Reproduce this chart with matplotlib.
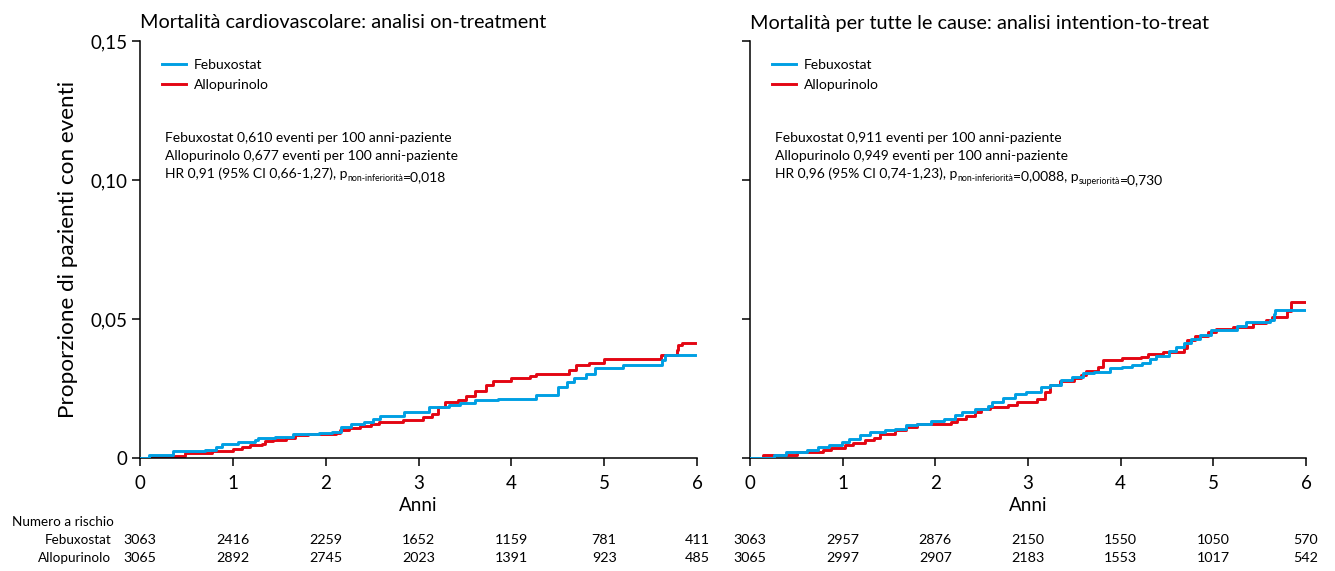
import matplotlib
matplotlib.use("Agg")
import matplotlib.pyplot as plt
import numpy as np

plt.rcParams['font.family'] = ['Lato', 'DejaVu Sans']

BLUE = '#009fe3'
RED = '#e30613'

# Kaplan-Meier step curves (anni, proporzione cumulativa)
cv_feb_t = [0, 0.10, 0.36, 0.70, 0.82, 0.88, 1.06, 1.24, 1.27, 1.45, 1.65, 1.93, 2.07, 2.17, 2.27, 2.41,
            2.51, 2.59, 2.84, 3.11, 3.33, 3.45, 3.61, 3.86, 4.27, 4.50, 4.60, 4.68, 4.80, 4.90,
            5.20, 5.62, 5.66, 5.98]
cv_feb_y = [0, 0.0010, 0.0024, 0.0029, 0.0039, 0.0051, 0.0057, 0.0063, 0.0071, 0.0077, 0.0085, 0.0089,
            0.0095, 0.0110, 0.0123, 0.0129, 0.0141, 0.0150, 0.0164, 0.0184, 0.0190, 0.0198, 0.0208,
            0.0214, 0.0226, 0.0256, 0.0274, 0.0289, 0.0302, 0.0322, 0.0335, 0.0353, 0.0370, 0.0370]

cv_allo_t = [0, 0.14, 0.48, 0.78, 1.00, 1.10, 1.18, 1.31, 1.35, 1.43, 1.57, 1.67, 1.81, 2.11, 2.15,
             2.25, 2.37, 2.49, 2.57, 2.83, 3.05, 3.15, 3.21, 3.29, 3.43, 3.51, 3.61, 3.73, 3.80,
             4.00, 4.20, 4.27, 4.62, 4.70, 4.84, 5.00, 5.61, 5.78, 5.80, 5.84, 5.98]
cv_allo_y = [0, 0.0008, 0.0017, 0.0024, 0.0033, 0.0039, 0.0045, 0.0051, 0.0060, 0.0066, 0.0072, 0.0083,
             0.0087, 0.0091, 0.0101, 0.0107, 0.0115, 0.0123, 0.0129, 0.0135, 0.0147, 0.0160, 0.0184,
             0.0202, 0.0210, 0.0223, 0.0242, 0.0262, 0.0278, 0.0286, 0.0295, 0.0301, 0.0316, 0.0335,
             0.0343, 0.0356, 0.0370, 0.0389, 0.0407, 0.0415, 0.0415]

all_feb_t = [0, 0.26, 0.39, 0.61, 0.73, 0.85, 0.99, 1.07, 1.19, 1.30, 1.46, 1.56, 1.68, 1.80, 1.95,
             2.09, 2.21, 2.29, 2.43, 2.57, 2.61, 2.73, 2.86, 2.98, 3.14, 3.24, 3.36, 3.47, 3.59,
             3.71, 3.89, 4.01, 4.12, 4.23, 4.32, 4.38, 4.52, 4.60, 4.68, 4.76, 4.86, 4.98, 5.25,
             5.35, 5.61, 5.65, 5.67, 6.00]
all_feb_y = [0, 0.0012, 0.0023, 0.0029, 0.0039, 0.0048, 0.0057, 0.0069, 0.0081, 0.0093, 0.0099, 0.0105,
             0.0117, 0.0123, 0.0133, 0.0141, 0.0153, 0.0165, 0.0178, 0.0186, 0.0202, 0.0217, 0.0232,
             0.0238, 0.0254, 0.0262, 0.0280, 0.0290, 0.0304, 0.0310, 0.0322, 0.0329, 0.0335, 0.0341,
             0.0355, 0.0367, 0.0386, 0.0401, 0.0413, 0.0428, 0.0443, 0.0461, 0.0476, 0.0489, 0.0498,
             0.0518, 0.0534, 0.0534]

all_allo_t = [0, 0.14, 0.51, 0.79, 0.87, 1.03, 1.11, 1.24, 1.34, 1.40, 1.56, 1.68, 1.80, 2.17, 2.23,
              2.33, 2.43, 2.49, 2.59, 2.78, 2.88, 3.10, 3.18, 3.24, 3.34, 3.50, 3.57, 3.63, 3.75,
              3.81, 4.01, 4.22, 4.30, 4.46, 4.68, 4.72, 4.80, 4.94, 5.03, 5.21, 5.43, 5.57, 5.63,
              5.80, 5.84, 6.00]
all_allo_y = [0, 0.0012, 0.0021, 0.0027, 0.0036, 0.0045, 0.0053, 0.0063, 0.0072, 0.0087, 0.0099, 0.0111,
              0.0123, 0.0129, 0.0141, 0.0151, 0.0165, 0.0175, 0.0184, 0.0190, 0.0202, 0.0214, 0.0238,
              0.0262, 0.0278, 0.0289, 0.0298, 0.0314, 0.0329, 0.0353, 0.0359, 0.0365, 0.0373, 0.0383,
              0.0395, 0.0423, 0.0440, 0.0452, 0.0464, 0.0473, 0.0486, 0.0495, 0.0507, 0.0528, 0.0562,
              0.0562]

years = [0, 1, 2, 3, 4, 5, 6]
cv_risk_feb = [3063, 2416, 2259, 1652, 1159, 781, 411]
cv_risk_allo = [3065, 2892, 2745, 2023, 1391, 923, 485]
all_risk_feb = [3063, 2957, 2876, 2150, 1550, 1050, 570]
all_risk_allo = [3065, 2997, 2907, 2183, 1553, 1017, 542]

titles = ['Mortalità cardiovascolare: analisi on-treatment',
          'Mortalità per tutte le cause: analisi intention-to-treat']
stats = [
    ['Febuxostat 0,610 eventi per 100 anni-paziente',
     'Allopurinolo 0,677 eventi per 100 anni-paziente',
     [('HR 0,91 (95% CI 0,66-1,27), p', 0), ('non-inferiorità', 1), ('=0,018', 0)]],
    ['Febuxostat 0,911 eventi per 100 anni-paziente',
     'Allopurinolo 0,949 eventi per 100 anni-paziente',
     [('HR 0,96 (95% CI 0,74-1,23), p', 0), ('non-inferiorità', 1), ('=0,0088, p', 0),
      ('superiorità', 1), ('=0,730', 0)]],
]

fig = plt.figure(figsize=(13.35, 5.71), dpi=100)
ax1 = fig.add_axes([140 / 1335, 113 / 571, 557 / 1335, 417 / 571])
ax2 = fig.add_axes([750 / 1335, 113 / 571, 556 / 1335, 417 / 571])

series = [
    (ax1, cv_feb_t, cv_feb_y, cv_allo_t, cv_allo_y, cv_risk_feb, cv_risk_allo),
    (ax2, all_feb_t, all_feb_y, all_allo_t, all_allo_y, all_risk_feb, all_risk_allo),
]

TXT = 10

for i, (ax, ft, fy, at, ay, rf, ra) in enumerate(series):
    ax.step(ft, fy, where='post', color=BLUE, lw=2.1, label='Febuxostat', zorder=3)
    ax.step(at, ay, where='post', color=RED, lw=2.1, label='Allopurinolo', zorder=2)

    ax.set_xlim(0, 6)
    ax.set_ylim(0, 0.15)
    ax.set_xticks(years)
    ax.set_yticks([0, 0.05, 0.10, 0.15])
    ax.set_yticklabels(['0', '0,05', '0,10', '0,15'])
    if i == 1:
        ax.tick_params(axis='y', labelleft=False)
    ax.spines['top'].set_visible(False)
    ax.spines['right'].set_visible(False)
    for s in ('left', 'bottom'):
        ax.spines[s].set_linewidth(1.1)
    ax.tick_params(length=6, width=1.1, labelsize=13.5)
    ax.tick_params(axis='x', pad=6.5)
    ax.tick_params(axis='y', pad=3)
    ax.set_xlabel('Anni', fontsize=13.5, labelpad=3)
    ax.set_title(titles[i], fontsize=14.3, loc='left', pad=9)

    ax.legend(loc='upper left', bbox_to_anchor=(0.0395, 0.956), frameon=False, fontsize=TXT,
              handlelength=1.7, handletextpad=0.6, labelspacing=0.55,
              borderpad=0, borderaxespad=0)

    # incidence text block
    x0 = 0.045
    ax.text(x0, 0.757, stats[i][0], transform=ax.transAxes, fontsize=TXT, va='baseline')
    ax.text(x0, 0.714, stats[i][1], transform=ax.transAxes, fontsize=TXT, va='baseline')
    prev = None
    for txt, sub in stats[i][2]:
        size = 6.3 if sub else TXT
        dy = -2 if sub else 0
        if prev is None:
            prev = ax.text(x0, 0.671, txt, transform=ax.transAxes, fontsize=size, va='baseline')
            continue
        prev = ax.annotate(txt, xy=(1, 0), xycoords=prev, xytext=(0, dy),
                           textcoords='offset points', fontsize=size, va='bottom', ha='left')

    # numbers at risk
    trans = ax.get_xaxis_transform()
    for x, a, b in zip(years, rf, ra):
        ax.text(x, -0.197, str(a), transform=trans, ha='center', va='center', fontsize=10.3,
                clip_on=False)
        ax.text(x, -0.240, str(b), transform=trans, ha='center', va='center', fontsize=10.3,
                clip_on=False)

ax1.set_ylabel('Proporzione di pazienti con eventi', fontsize=16.2, labelpad=9)

fig.text(12 / 1335, 1 - 522 / 571, 'Numero a rischio', fontsize=9.7, va='center', ha='left')
fig.text(111 / 1335, 1 - 540 / 571, 'Febuxostat', fontsize=9.7, va='center', ha='right')
fig.text(111 / 1335, 1 - 558 / 571, 'Allopurinolo', fontsize=9.7, va='center', ha='right')

fig.savefig('out.png', dpi=100)
